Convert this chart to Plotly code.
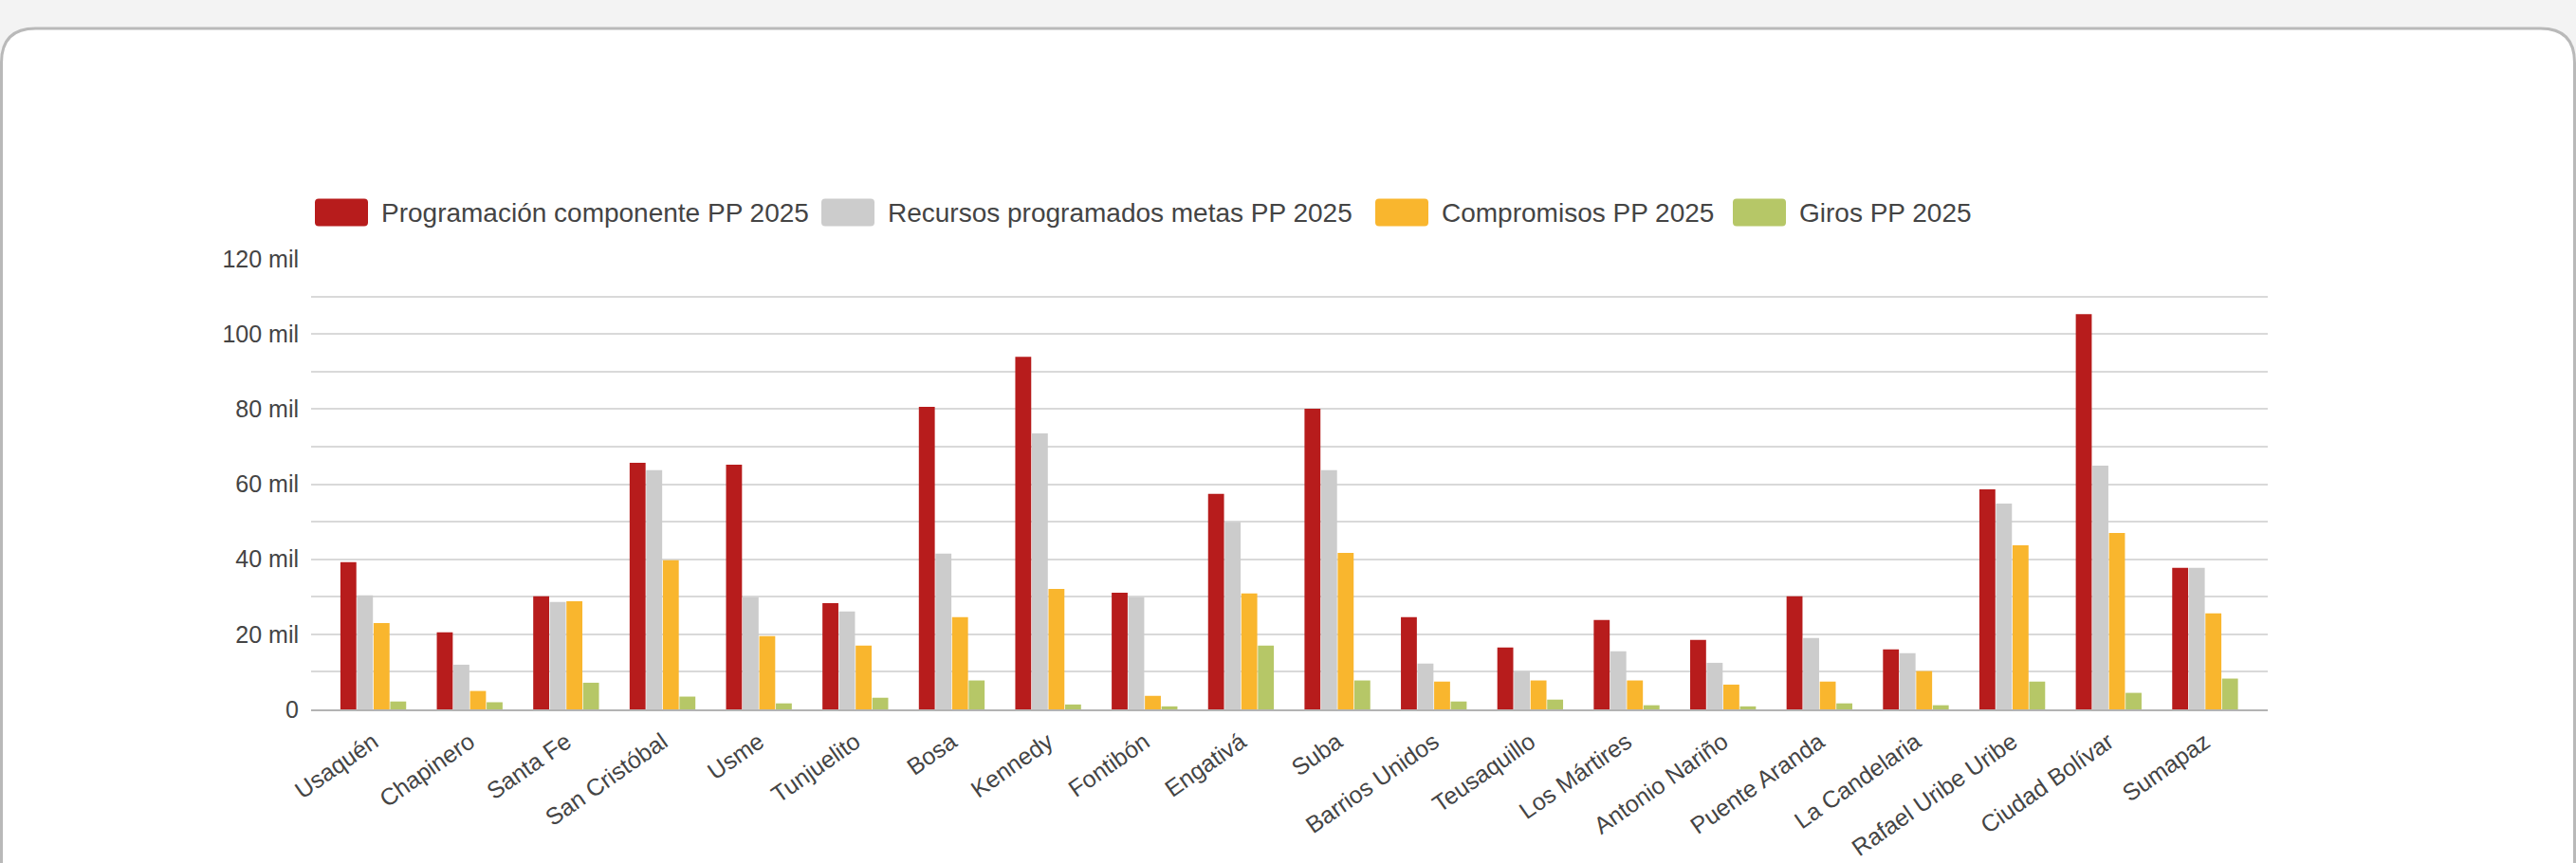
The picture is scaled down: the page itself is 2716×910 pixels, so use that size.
import plotly.graph_objects as go

# ---------------- data ----------------
categories = ["Usaquén", "Chapinero", "Santa Fe", "San Cristóbal", "Usme", "Tunjuelito",
              "Bosa", "Kennedy", "Fontibón", "Engativá", "Suba", "Barrios Unidos",
              "Teusaquillo", "Los Mártires", "Antonio Nariño", "Puente Aranda",
              "La Candelaria", "Rafael Uribe Uribe", "Ciudad Bolívar", "Sumapaz"]

programacion = [39200, 20500, 30100, 65700, 65200, 28300, 80600, 93900, 31100, 57400,
                80100, 24600, 16500, 23800, 18500, 30100, 16000, 58600, 105300, 37700]
recursos = [30400, 11900, 28600, 63700, 29900, 26100, 41500, 73500, 29900, 49900,
            63700, 12200, 10200, 15500, 12400, 19000, 15000, 54800, 64900, 37700]
compromisos = [23000, 4900, 28800, 39700, 19500, 17000, 24600, 32100, 3600, 30900,
               41700, 7400, 7700, 7700, 6600, 7400, 10200, 43700, 47000, 25600]
giros = [2100, 1900, 7100, 3400, 1600, 3100, 7700, 1300, 800, 17000,
         7700, 2100, 2600, 1100, 800, 1600, 1100, 7400, 4400, 8200]

series_names = ["Programación componente PP 2025", "Recursos programados metas PP 2025",
                "Compromisos PP 2025", "Giros PP 2025"]
series_values = [programacion, recursos, compromisos, giros]
series_colors = ["#B71C1C", "#CCCCCC", "#F9B62E", "#B6C767"]

y_tick_vals = [0, 10000, 20000, 30000, 40000, 50000, 60000, 70000, 80000, 90000,
               100000, 110000, 120000]
y_tick_text = ["0", "", "20 mil", "", "40 mil", "", "60 mil", "", "80 mil", "",
               "100 mil", "", "120 mil"]

# ---------------- layout geometry ----------------
W, H = 2716, 910
ML, MR, MT, MB = 328, 325, 273, 162
PW, PH = W - ML - MR, H - MT - MB
FONT = "Liberation Sans, Arial, sans-serif"
TXT = "#444444"


def px2x(px):
    return (px - ML) / PW


def py2y(py):
    return (H - MB - py) / PH


def rounded_path(x0, y0, x1, y1, r):
    pts = [
        ("M", [(x0 + r, y0)]),
        ("L", [(x1 - r, y0)]),
        ("Q", [(x1, y0), (x1, y0 + r)]),
        ("L", [(x1, y1 - r)]),
        ("Q", [(x1, y1), (x1 - r, y1)]),
        ("L", [(x0 + r, y1)]),
        ("Q", [(x0, y1), (x0, y1 - r)]),
        ("L", [(x0, y0 + r)]),
        ("Q", [(x0, y0), (x0 + r, y0)]),
    ]
    s = ""
    for cmd, ps in pts:
        s += cmd + " ".join(f"{px2x(a):.6f},{py2y(b):.6f}" for a, b in ps) + " "
    return s + "Z"


fig = go.Figure()
for name, vals, col in zip(series_names, series_values, series_colors):
    fig.add_trace(go.Bar(x=categories, y=vals, name=name,
                         marker=dict(color=col, line=dict(width=0)),
                         showlegend=False))

shapes = []
annotations = []
# card background
shapes.append(dict(type="path", xref="paper", yref="paper", layer="below",
                   path=rounded_path(1.5, 30, W - 1.5, H + 60, 36),
                   fillcolor="#FFFFFF", line=dict(color="#B9B9B9", width=3)))

# custom legend
legend_x = [332, 866, 1450, 1827]
legend_cy = 224
for lx, name, col in zip(legend_x, series_names, series_colors):
    shapes.append(dict(type="path", xref="paper", yref="paper", layer="above",
                       path=rounded_path(lx, legend_cy - 14.5, lx + 56, legend_cy + 14.5, 4),
                       fillcolor=col, line=dict(width=0)))
    annotations.append(dict(xref="paper", yref="paper", x=px2x(lx + 68), y=py2y(legend_cy),
                            xanchor="left", yanchor="middle", showarrow=False,
                            text=name, font=dict(family=FONT, size=28, color=TXT)))

fig.update_layout(
    width=W, height=H,
    margin=dict(l=ML, r=MR, t=MT, b=MB, pad=0, autoexpand=False),
    paper_bgcolor="#F3F3F3",
    plot_bgcolor="rgba(0,0,0,0)",
    barmode="group",
    bargap=0.311,
    bargroupgap=0.04,
    font=dict(family=FONT, size=25, color=TXT),
    shapes=shapes,
    annotations=annotations,
    showlegend=False,
    xaxis=dict(
        type="category",
        range=[-0.645, 19.65],
        tickangle=-35,
        tickfont=dict(family=FONT, size=25, color=TXT),
        showgrid=False,
        showline=True, linecolor="#B3B3B3", linewidth=2,
        ticks="", ticklabelstandoff=8,
        automargin=False,
        fixedrange=True,
    ),
    yaxis=dict(
        range=[0, 120000],
        tickmode="array", tickvals=y_tick_vals, ticktext=y_tick_text,
        tickfont=dict(family=FONT, size=25, color=TXT),
        showgrid=True, gridcolor="#D9D9D9", gridwidth=1.5,
        zeroline=False, showline=False,
        ticks="", ticklabelstandoff=12,
        automargin=False,
        fixedrange=True,
    ),
)

fig.write_html("out.html", config={"displayModeBar": False},
               post_script="document.body.style.margin='0';document.body.style.overflow='hidden';")
